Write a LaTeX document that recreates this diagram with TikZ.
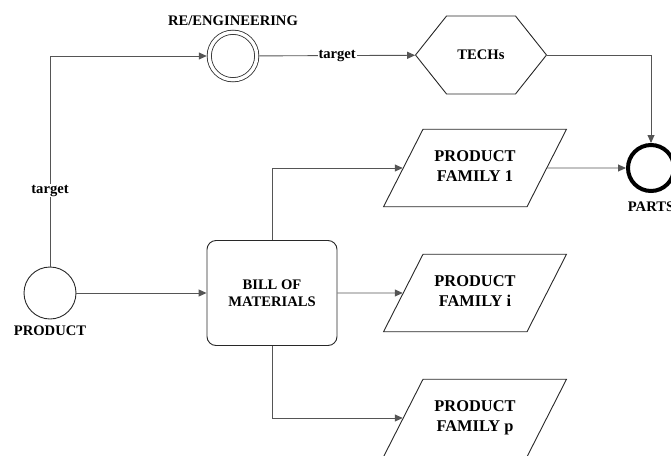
\documentclass[tikz,border=0pt]{standalone}
\usepackage{fontspec}
\setmainfont{Liberation Serif}
\usetikzlibrary{arrows.meta,positioning,shapes.geometric,shapes.symbols}
\definecolor{LineGrey}{RGB}{85,85,85}
\definecolor{EdgeGrey}{RGB}{40,40,40}

\begin{document}
\begin{tikzpicture}[x=1pt,y=-1pt,
    every node/.style={font=\bfseries\fontsize{14.6}{17.5}\selectfont,align=center},
    conn/.style={draw=LineGrey,line width=.9pt,-{Triangle[length=8pt,width=7pt]}},
    lbl/.style={fill=white,inner sep=1pt},
    family/.style={trapezium,trapezium left angle=63,trapezium right angle=117,
      trapezium stretches body,draw=EdgeGrey,line width=.9pt,
      minimum width=183,inner xsep=0pt,inner ysep=21.6pt,
      font=\bfseries\fontsize{16.4}{20}\selectfont}]
  \useasboundingbox (0,0) rectangle (671,455);
  % start and end points
  \node[circle,draw=EdgeGrey,line width=.9pt,minimum size=52] (prod) at (50,293) {};
  \node[below=3pt of prod] (prodlbl) {PRODUCT};
  \node[circle,draw=EdgeGrey,line width=.8pt,double,double distance=3.4pt,
    minimum size=47.5,outer sep=2.5pt] (reeng) at (233,56) {};
  \node (reenglbl) at (233,21) {RE/ENGINEERING};
  \node[circle,draw=black,line width=4pt,minimum size=46] (parts) at (651,168) {};
  \node (partslbl) at (651,207) {PARTS};
  % boxes
  \node[signal,signal to=west and east,signal pointer angle=103,draw=EdgeGrey,
    line width=.9pt,minimum width=131,minimum height=78] (techs) at (481,55) {TECHs};
  \node[rectangle,rounded corners=9pt,draw=EdgeGrey,line width=.9pt,
    minimum width=130,minimum height=105] (bom) at (272,293) {BILL OF\\MATERIALS};
  \foreach \nm/\y/\txt in {fam1/168/1,fami/293/i,famp/418/p}
    \node[family] (\nm) at (475,\y) {PRODUCT\\FAMILY \txt\vphantom{p}};
  % connectors
  \draw[conn] (prod) |- node[lbl,pos=.18] {target} (reeng);
  \draw[conn] (reeng) -- node[lbl] {target} (techs);
  \draw[conn] (techs) -| (parts);
  \draw[conn] (prod) -- (bom);
  \draw[conn] (bom) |- (fam1);
  \draw[conn] (bom) -- (fami);
  \draw[conn] (bom) |- (famp);
  \draw[conn] (fam1) -- (parts);
\end{tikzpicture}
\end{document}
